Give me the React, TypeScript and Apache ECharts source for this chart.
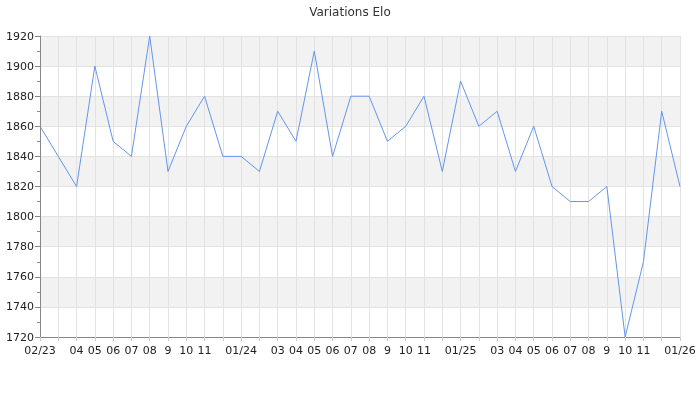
import React, { useEffect, useRef } from "react";
import * as echarts from "echarts";

const months = [
  "02/23", "", "04", "05", "06", "07", "08", "9", "10", "11", "", "01/24",
  "", "03", "04", "05", "06", "07", "08", "9", "10", "11", "", "01/25",
  "", "03", "04", "05", "06", "07", "08", "9", "10", "11", "", "01/26",
];

const elo = [
  1860, 1840, 1820, 1900, 1850, 1840, 1920, 1830, 1860, 1880, 1840, 1840,
  1830, 1870, 1850, 1910, 1840, 1880, 1880, 1850, 1860, 1880, 1830, 1890,
  1860, 1870, 1830, 1860, 1820, 1810, 1810, 1820, 1720, 1770, 1870, 1820,
];

const categoryIds = months.map((_, i) => String(i));

const FONT = "DejaVu Sans";

export default function App() {
  const ref = useRef<HTMLDivElement>(null);
  useEffect(() => {
    if (!ref.current) return;
    const chart = echarts.init(ref.current, undefined, { renderer: "svg" });
    chart.setOption({
      animation: false,
      title: {
        text: "Variations Elo",
        left: "center",
        top: 1,
        textStyle: { fontFamily: FONT, fontSize: 12, fontWeight: "normal", color: "#333" },
      },
      grid: { left: 40, right: 20, top: 36, bottom: 63, containLabel: false },
      xAxis: {
        type: "category",
        boundaryGap: false,
        data: categoryIds,
        axisLine: { lineStyle: { color: "#888" } },
        axisTick: { show: true, interval: 0, length: 4, lineStyle: { color: "#ccc" } },
        axisLabel: {
          interval: 0,
          margin: 8,
          fontFamily: FONT,
          fontSize: 11,
          color: "#222",
          formatter: (v: string) => months[Number(v)],
        },
        splitLine: { show: true, interval: 0, lineStyle: { color: "#e2e2e2", width: 1 } },
      },
      yAxis: {
        type: "value",
        min: 1720,
        max: 1920,
        interval: 20,
        axisLine: { show: true, lineStyle: { color: "#888" } },
        axisTick: { show: true, length: 5, lineStyle: { color: "#888" } },
        minorTick: { show: true, splitNumber: 2, length: 3, lineStyle: { color: "#888" } },
        axisLabel: {
          fontFamily: FONT,
          fontSize: 11,
          color: "#222",
          margin: 6,
          formatter: (v: number) => String(v),
        },
        splitLine: { show: true, lineStyle: { color: "#e2e2e2" } },
        splitArea: { show: true, areaStyle: { color: ["#ffffff", "#f2f2f2"] } },
      },
      series: [
        {
          type: "line",
          data: elo,
          showSymbol: false,
          symbol: "none",
          lineStyle: { color: "#6495ed", width: 1 },
          itemStyle: { color: "#6495ed" },
        },
      ],
    });
    return () => chart.dispose();
  }, []);
  return (
    <div
      ref={ref}
      style={{ position: "fixed", left: 0, top: 0, width: 700, height: 400 }}
    />
  );
}
